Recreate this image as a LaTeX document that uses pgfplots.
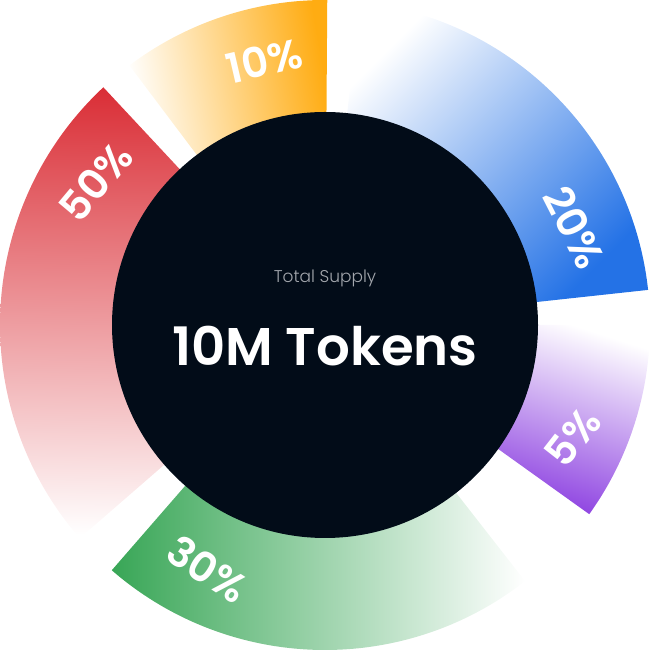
\documentclass[border=0pt]{standalone}
\usepackage{pgfplots}
\pgfplotsset{compat=1.18}
\usepgfplotslibrary{polar}
\usetikzlibrary{calc}
\usepackage{fontspec}
\setmainfont{Poppins}
\newfontfamily\popsb{Poppins SemiBold}
\newfontfamily\poplt{Poppins Light}
\definecolor{cOrange}{HTML}{FFAC12}
\definecolor{cBlue}{HTML}{2472E6}
\definecolor{cPurple}{HTML}{8A3CE0}
\definecolor{cGreen}{HTML}{38A656}
\definecolor{cRed}{HTML}{DA2F37}
\definecolor{cDark}{HTML}{020C18}
\definecolor{cGray}{HTML}{A3A7AD}
\tikzset{lbl/.style={text=white, font=\popsb\fontsize{41.5}{44}\selectfont, inner sep=0pt}}
\begin{document}
\begin{tikzpicture}
\begin{polaraxis}[
  hide axis, scale only axis, width=650pt, height=650pt,
  ymin=0, ymax=325, xmin=0, xmax=360, clip=false,
]
% segments: from clockwise edge (strong colour) to counter-clockwise edge (white), outer radius 325
\addplot[draw=none, top color=cOrange, bottom color=white, shading angle=-80, domain=89.6:127, samples=60] {325} -- (axis cs:127,190) -- (axis cs:89.6,190) -- cycle;
\addplot[draw=none, top color=cBlue, bottom color=white, shading angle=-134.9, domain=6.2:84, samples=80] {325} -- (axis cs:84,190) -- (axis cs:6.2,190) -- cycle;
\addplot[draw=none, top color=cPurple, bottom color=white, shading angle=-197.8, domain=-35.6:0, samples=50] {325} -- (axis cs:0,190) -- (axis cs:-35.6,190) -- cycle;
\addplot[draw=none, top color=cGreen, bottom color=white, shading angle=-270, domain=-131:-52, samples=90] {325} -- (axis cs:-52,190) -- (axis cs:-131,190) -- cycle;
\addplot[draw=none, top color=cRed, bottom color=white, shading angle=-1, domain=133:221, samples=90] {325} -- (axis cs:221,190) -- (axis cs:133,190) -- cycle;
% labels
\node[lbl, rotate=13]  at (axis cs:102.9,271) {10\%};
\node[lbl, rotate=-63] at (axis cs:21.4,268) {20\%};
\node[lbl, rotate=52]  at (axis cs:-24.4,272) {5\%};
\node[lbl, rotate=-33] at (axis cs:-115.7,271) {30\%};
\node[lbl, rotate=50]  at (axis cs:148,270) {50\%};
\coordinate (O) at (axis cs:0,0);
\coordinate (R) at (axis cs:0,213);
\coordinate (T1) at (axis cs:90,42);
\coordinate (T2) at (axis cs:-90,21.5);
\coordinate (SW) at (axis cs:225,459.62);
\coordinate (NE) at (axis cs:45,459.62);
\end{polaraxis}
\fill[cDark] let \p1=($(R)-(O)$) in (O) circle[radius={veclen(\x1,\y1)}];
\node[anchor=base, text=cGray, inner sep=0pt, font=\poplt\fontsize{17}{20}\selectfont] at (T1) {Total Supply};
\node[anchor=center, text=white, inner sep=0pt, font=\popsb\fontsize{53}{60}\selectfont] at (T2) {10M Tokens};
\pgfresetboundingbox
\path (SW) rectangle (NE);
\end{tikzpicture}
\end{document}
